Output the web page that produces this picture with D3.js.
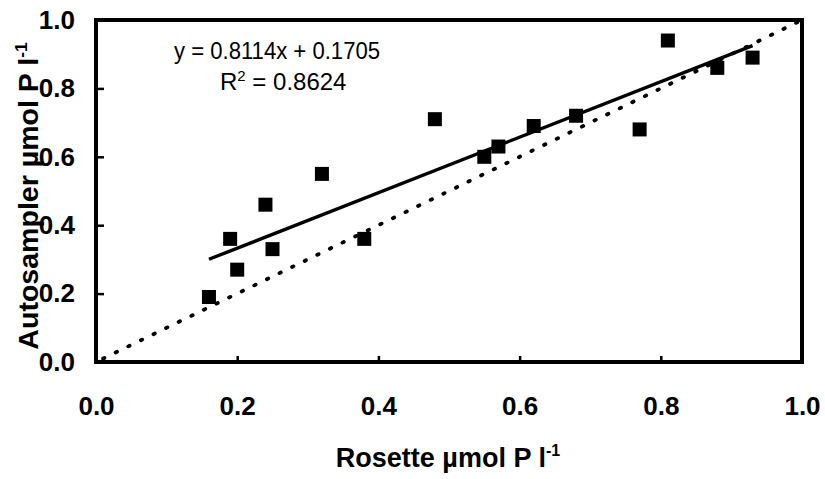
<!DOCTYPE html>
<html lang="en">
<head>
<meta charset="UTF-8">
<title>Autosampler vs Rosette</title>
<script src="https://d3js.org/d3.v7.min.js"></script>
<style>
  body { margin: 0; background: #fff; }
  svg text { font-family: Arial, "Liberation Sans", sans-serif; fill: #000; }
</style>
</head>
<body>
<div id="chart"></div>
<script>
// data
const rosette = [0.16, 0.19, 0.20, 0.24, 0.25, 0.32, 0.38, 0.48, 0.55, 0.57, 0.62, 0.68, 0.77, 0.81, 0.88, 0.93];
const autosampler = [0.19, 0.36, 0.27, 0.46, 0.33, 0.55, 0.36, 0.71, 0.60, 0.63, 0.69, 0.72, 0.68, 0.94, 0.86, 0.89];
const slope = 0.8114, intercept = 0.1705, r2 = "0.8624";
const xTicks = [0, 0.2, 0.4, 0.6, 0.8, 1.0];
const yTicks = [0, 0.2, 0.4, 0.6, 0.8, 1.0];

const width = 825, height = 479;
const margin = { top: 20, right: 23, bottom: 117, left: 96 };
const w = width - margin.left - margin.right;
const h = height - margin.top - margin.bottom;

const svg = d3.select("#chart").append("svg")
    .attr("width", width)
    .attr("height", height);

const g = svg.append("g").attr("transform", `translate(${margin.left},${margin.top})`);

const x = d3.scaleLinear().domain([0, 1]).range([0, w]);
const y = d3.scaleLinear().domain([0, 1]).range([h, 0]);

// axes (ticks point inward)
const xAxis = g.append("g")
    .attr("transform", `translate(0,${h})`)
    .call(d3.axisBottom(x).tickValues(xTicks).tickFormat(d3.format(".1f")).tickSize(-6).tickPadding(35));
const yAxis = g.append("g")
    .call(d3.axisLeft(y).tickValues(yTicks).tickFormat(d3.format(".1f")).tickSize(-8).tickPadding(21));

[xAxis, yAxis].forEach(a => {
    a.select(".domain").remove();
    a.selectAll(".tick line").attr("stroke", "#000").attr("stroke-width", 2.5);
    a.selectAll(".tick text")
        .style("font-size", "26px")
        .style("font-weight", "bold");
});

// frame
g.append("rect")
    .attr("width", w).attr("height", h)
    .attr("fill", "none")
    .attr("stroke", "#000")
    .attr("stroke-width", 4);

// 1:1 line
g.append("line")
    .attr("x1", x(0.01)).attr("y1", y(0.01))
    .attr("x2", x(1)).attr("y2", y(1))
    .attr("stroke", "#000")
    .attr("stroke-width", 3.8)
    .attr("stroke-linecap", "round")
    .attr("stroke-dasharray", "1.5,12.5");

// regression line
const xMin = d3.min(rosette), xMax = d3.max(rosette);
g.append("line")
    .attr("x1", x(xMin)).attr("y1", y(slope * xMin + intercept))
    .attr("x2", x(xMax)).attr("y2", y(slope * xMax + intercept))
    .attr("stroke", "#000")
    .attr("stroke-width", 3.4);

// points
const sq = 14;
g.selectAll("rect.pt")
    .data(rosette)
    .join("rect")
    .attr("class", "pt")
    .attr("x", (d) => x(d) - sq / 2)
    .attr("y", (d, i) => y(autosampler[i]) - sq / 2)
    .attr("width", sq)
    .attr("height", sq)
    .attr("fill", "#000");

// equation
svg.append("text")
    .attr("x", 174).attr("y", 59)
    .attr("textLength", 206)
    .attr("lengthAdjust", "spacingAndGlyphs")
    .style("font-size", "24px")
    .text(`y = ${slope}x + ${intercept}`);

const r2Text = svg.append("text")
    .attr("x", 220).attr("y", 90)
    .style("font-size", "24px");
r2Text.append("tspan").text("R");
r2Text.append("tspan").attr("dy", -9).style("font-size", "15px").text("2");
r2Text.append("tspan").attr("dy", 9).text(` = ${r2}`);

// axis titles
const xTitle = svg.append("text")
    .attr("x", 448).attr("y", 467)
    .attr("text-anchor", "middle")
    .style("font-size", "27px")
    .style("font-weight", "bold");
xTitle.append("tspan").text("Rosette \u00b5mol P l");
xTitle.append("tspan").attr("dy", -11).style("font-size", "16px").text("-1");

const yTitle = svg.append("text")
    .attr("transform", "translate(38,196) rotate(-90) scale(1.02,1)")
    .attr("text-anchor", "middle")
    .style("font-size", "28px")
    .style("font-weight", "bold");
yTitle.append("tspan").text("Autosampler \u00b5mol P l");
yTitle.append("tspan").attr("dy", -11).style("font-size", "17px").text("-1");
</script>
</body>
</html>
